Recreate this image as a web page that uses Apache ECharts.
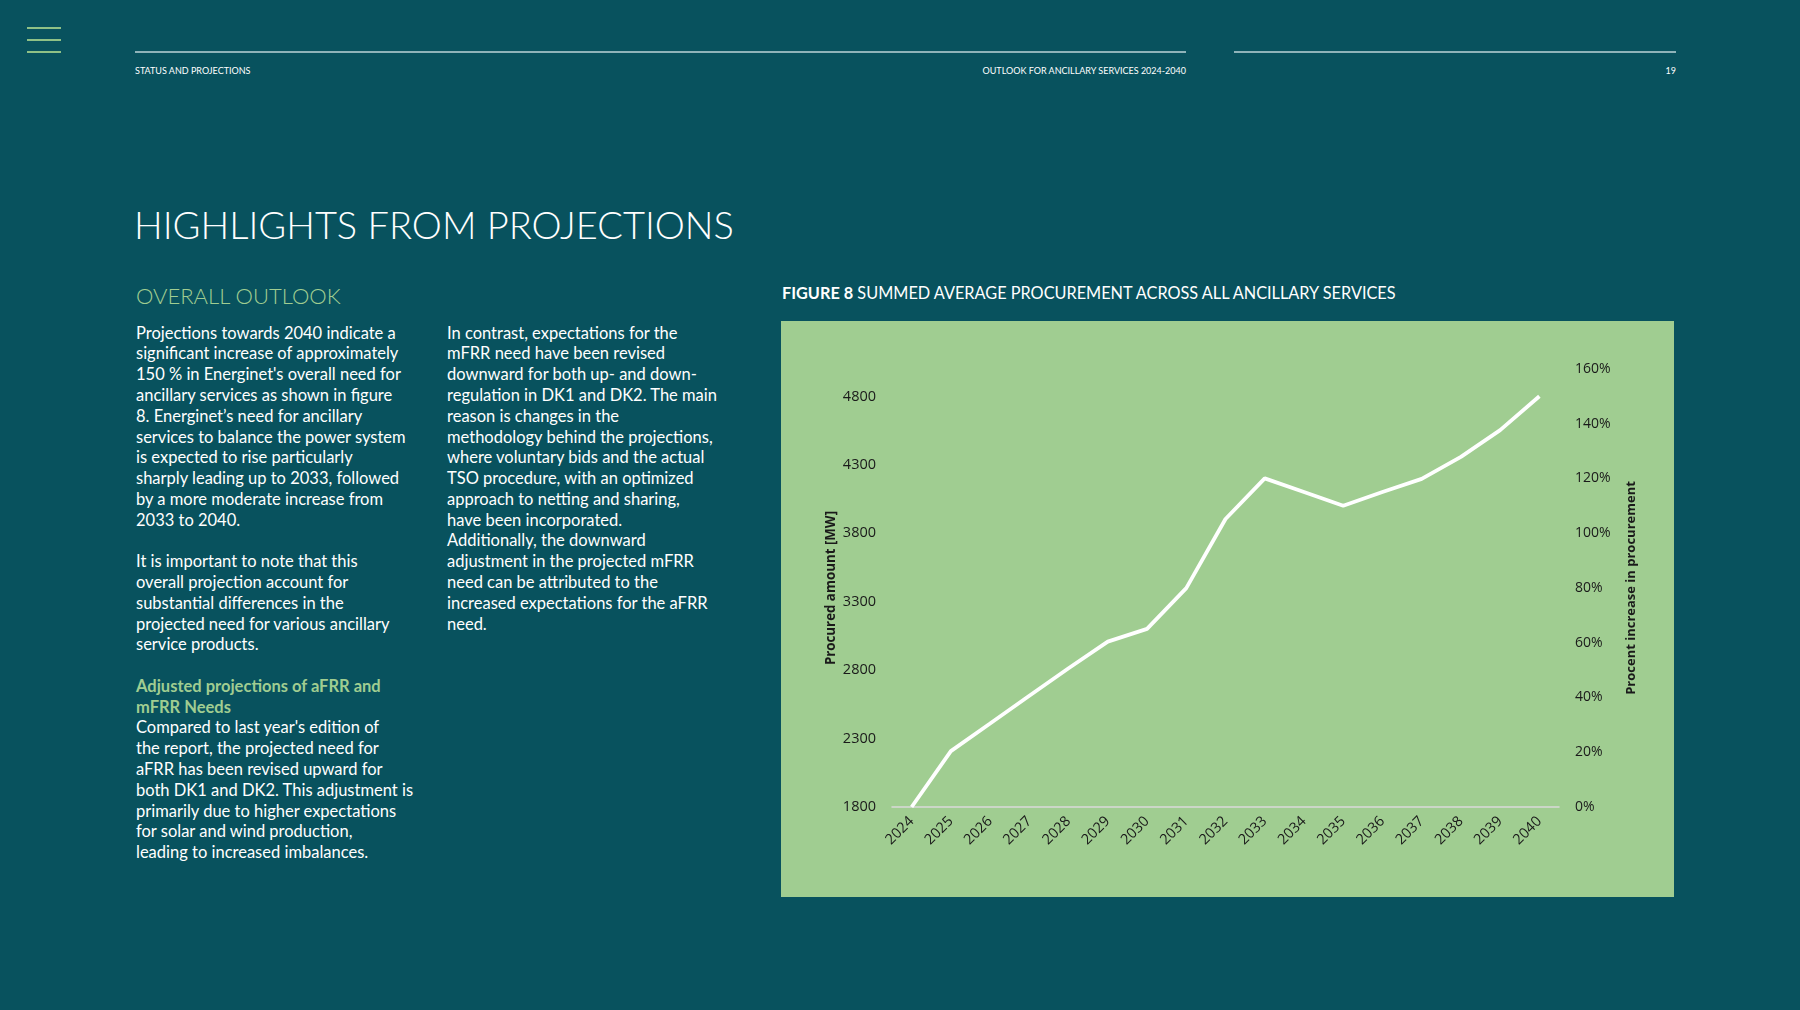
<!DOCTYPE html>
<html>
<head>
<meta charset="utf-8">
<title>Summed average procurement across all ancillary services</title>
<script src="https://cdn.jsdelivr.net/npm/echarts@6/dist/echarts.min.js"></script>
<style>
    html, body { margin: 0; padding: 0; }
    body {
        width: 1800px; height: 1010px; overflow: hidden;
        background: #08525e; color: #ffffff;
        font-family: Lato, "Open Sans", sans-serif;
        position: relative;
    }
    .abs { position: absolute; white-space: nowrap; }
    .menu { left: 27px; width: 34px; height: 2px; background: #8fc186; }
    .rule { height: 1.5px; background: #8fb3b9; top: 51px; }
    .small { top: 65px; font-size: 9px; line-height: 12px; }
    .title { left: 134px; top: 199px; font-size: 38px; line-height: 50px; font-weight: 300; }
    .sub { left: 136px; top: 281px; font-size: 22px; line-height: 30px; font-weight: 300; color: #a0cd91; }
    .body { top: 322.6px; font-size: 16.5px; line-height: 20.78px; }
    .green { color: #a0cd91; font-weight: bold; }
    .fig { left: 782px; top: 281px; font-size: 16.3px; line-height: 24px; }
    #chart { position: absolute; left: 781px; top: 321px; width: 893px; height: 576px; }
</style>
</head>
<body>
<div class="abs menu" style="top:27px"></div>
<div class="abs menu" style="top:39px"></div>
<div class="abs menu" style="top:51px"></div>
<div class="abs rule" style="left:135px; width:1051px"></div>
<div class="abs rule" style="left:1234px; width:442px"></div>
<div class="abs small" style="left:135px">STATUS AND PROJECTIONS</div>
<div class="abs small" style="right:614px">OUTLOOK FOR ANCILLARY SERVICES 2024-2040</div>
<div class="abs small" style="right:124px">19</div>

<div class="abs title">HIGHLIGHTS FROM PROJECTIONS</div>
<div class="abs sub">OVERALL OUTLOOK</div>

<div class="abs body" style="left:136px">
Projections towards 2040 indicate a<br>
significant increase of approximately<br>
150 % in Energinet's overall need for<br>
ancillary services as shown in figure<br>
8. Energinet’s need for ancillary<br>
services to balance the power system<br>
is expected to rise particularly<br>
sharply leading up to 2033, followed<br>
by a more moderate increase from<br>
2033 to 2040.<br>
<br>
It is important to note that this<br>
overall projection account for<br>
substantial differences in the<br>
projected need for various ancillary<br>
service products.<br>
<br>
<span class="green">Adjusted projections of aFRR and<br>
mFRR Needs</span><br>
Compared to last year's edition of<br>
the report, the projected need for<br>
aFRR has been revised upward for<br>
both DK1 and DK2. This adjustment is<br>
primarily due to higher expectations<br>
for solar and wind production,<br>
leading to increased imbalances.
</div>

<div class="abs body" style="left:447px">
In contrast, expectations for the<br>
mFRR need have been revised<br>
downward for both up- and down-<br>
regulation in DK1 and DK2. The main<br>
reason is changes in the<br>
methodology behind the projections,<br>
where voluntary bids and the actual<br>
TSO procedure, with an optimized<br>
approach to netting and sharing,<br>
have been incorporated.<br>
Additionally, the downward<br>
adjustment in the projected mFRR<br>
need can be attributed to the<br>
increased expectations for the aFRR<br>
need.
</div>

<div class="abs fig"><b>FIGURE 8</b> SUMMED AVERAGE PROCUREMENT ACROSS ALL ANCILLARY SERVICES</div>

<div id="chart"></div>

<script>
    // years on the x axis
    var years = ['2024', '2025', '2026', '2027', '2028', '2029', '2030', '2031', '2032',
                 '2033', '2034', '2035', '2036', '2037', '2038', '2039', '2040'];
    // summed average procurement [MW]
    var procured = [1800, 2208, 2410, 2613, 2814, 3008, 3101, 3399, 3904,
                    4201, 4101, 4001, 4101, 4197, 4358, 4553, 4801];
    // axis ranges
    var mwAxis = { min: 1800, max: 5000, step: 500 };
    var pctAxis = { min: 0, max: 160, step: 20 };

    var labelColor = '#1a1a1a';
    var chart = echarts.init(document.getElementById('chart'));
    chart.setOption({
        backgroundColor: '#a0cd91',
        animation: false,
        grid: { left: 111, right: 115, top: 48, bottom: 90 },
        xAxis: {
            type: 'category',
            data: years,
            boundaryGap: true,
            axisLine: { lineStyle: { color: '#d9d9d9', width: 1.5 } },
            axisTick: { show: false },
            axisLabel: {
                rotate: 45, margin: 12, interval: 0,
                color: labelColor, fontSize: 14.5, fontFamily: 'Open Sans'
            }
        },
        yAxis: [
            {
                type: 'value',
                min: mwAxis.min, max: mwAxis.max, interval: mwAxis.step,
                name: 'Procured amount [MW]',
                nameLocation: 'middle', nameGap: 54, nameRotate: 90,
                nameMoveOverlap: false,
                nameTextStyle: { color: labelColor, fontSize: 13.3, fontWeight: 'bold', fontFamily: 'Open Sans' },
                axisLine: { show: false },
                axisTick: { show: false },
                splitLine: { show: false },
                axisLabel: {
                    margin: 16, showMaxLabel: false,
                    formatter: function (v) { return String(v); },
                    color: labelColor, fontSize: 14.5, fontFamily: 'Open Sans'
                }
            },
            {
                type: 'value',
                position: 'right',
                min: pctAxis.min, max: pctAxis.max, interval: pctAxis.step,
                name: 'Procent increase in procurement',
                nameLocation: 'middle', nameGap: 66, nameRotate: 90,
                nameMoveOverlap: false,
                nameTextStyle: { color: labelColor, fontSize: 13, fontWeight: 'bold', fontFamily: 'Open Sans' },
                axisLine: { show: false },
                axisTick: { show: false },
                splitLine: { show: false },
                axisLabel: {
                    margin: 16, formatter: '{value}%',
                    color: labelColor, fontSize: 14, fontFamily: 'Open Sans'
                }
            }
        ],
        series: [
            {
                name: 'Procured amount',
                type: 'line',
                yAxisIndex: 0,
                data: procured,
                showSymbol: false,
                lineStyle: { color: '#ffffff', width: 3.8 }
            }
        ]
    });
</script>
</body>
</html>
